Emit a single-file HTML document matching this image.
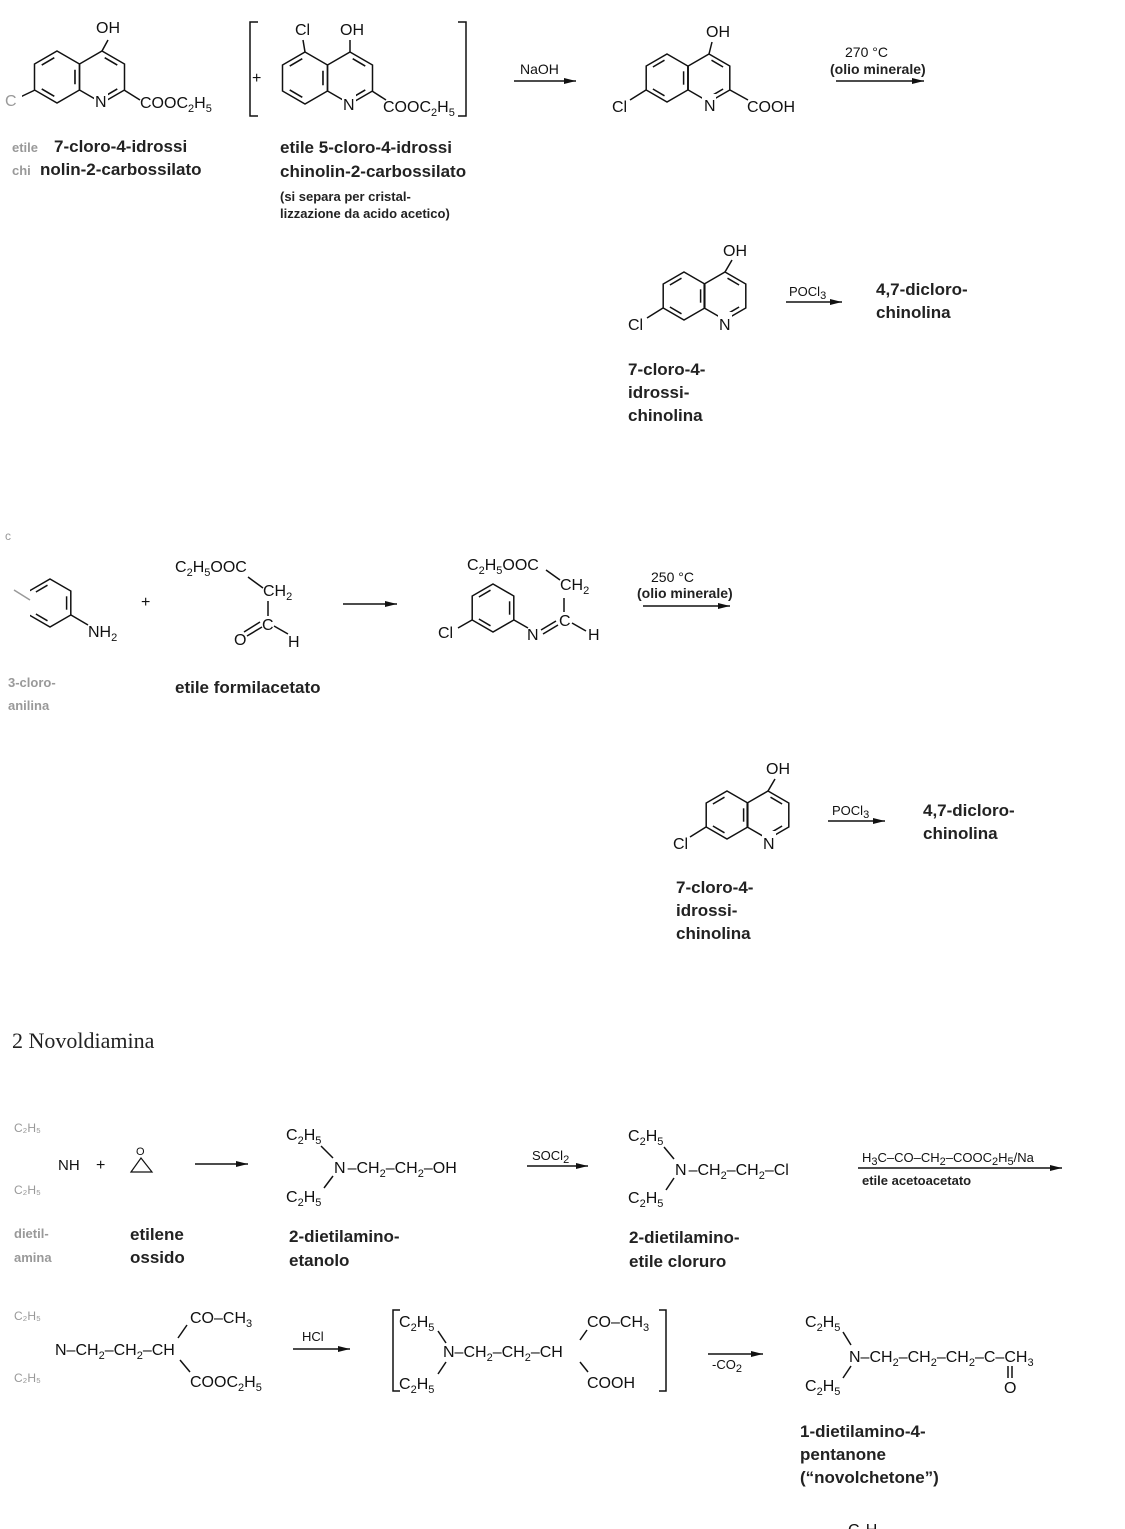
<!DOCTYPE html>
<html><head><meta charset="utf-8">
<style>
html,body{margin:0;padding:0;background:#fff;}
svg{display:block;}
text{font-family:"Liberation Sans",sans-serif;fill:#111;}
.c{font-size:16px;}
.s{font-size:11px;}
.b{font-size:17px;font-weight:bold;fill:#222;}
.sm{font-size:13px;font-weight:bold;fill:#222;}
.f{fill:#999;}
line,polyline,polygon,path{stroke:#111;stroke-width:1.5;fill:none;}
</style></head>
<body>
<svg width="1125" height="1529" viewBox="0 0 1125 1529" xmlns="http://www.w3.org/2000/svg">
<defs>
<polygon id="h26" points="0,-26 22.5,-13 22.5,13 0,26 -22.5,13 -22.5,-13"/>
<polygon id="h24" points="0,-24 20.8,-12 20.8,12 0,24 -20.8,12 -20.8,-12"/>
<g id="bz"><line x1="-14.1" y1="-11" x2="-2.5" y2="-17.8"/><line x1="16.6" y1="-6.7" x2="16.6" y2="6.7"/><line x1="-2.5" y1="17.8" x2="-14.1" y2="11"/></g>
<g id="py"><line x1="2.5" y1="-17.8" x2="14.1" y2="-11"/><line x1="14.1" y1="11" x2="2.5" y2="17.8"/></g>
<g id="bz26" transform="scale(1.083)"><use href="#bz"/></g>
<g id="py26" transform="scale(1.083)"><use href="#py"/></g>
<marker id="ar" markerWidth="12" markerHeight="6" refX="12" refY="3" orient="auto" markerUnits="userSpaceOnUse"><path d="M0,0 L12,3 L0,6 z" style="fill:#111;stroke:none"/></marker>
</defs>
<rect width="1125" height="1529" fill="#fff"/>

<!-- Structure 1 -->
<use href="#h26" x="102" y="77"/>
<use href="#py26" x="102" y="77"/>
<use href="#h26" x="57" y="77"/>
<use href="#bz26" x="57" y="77"/>
<line x1="108" y1="40" x2="102" y2="51"/>
<text class="c" x="96" y="33">OH</text>
<line x1="124" y1="90" x2="140" y2="100"/>
<rect x="94" y="92" width="14" height="14" fill="#fff" style="stroke:none"/>
<text class="c" x="95" y="107">N</text>
<text class="c" x="140" y="108">COOC<tspan class="s" dy="4">2</tspan><tspan dy="-4">H</tspan><tspan class="s" dy="4">5</tspan></text>
<line x1="35" y1="90" x2="14" y2="100"/>
<rect x="0" y="60" width="22" height="50" fill="#fff" style="stroke:none"/>
<text class="c f" x="5" y="106">C</text>
<text class="sm f" x="12" y="152">etile</text>
<text class="b" x="54" y="152">7-cloro-4-idrossi</text>
<text class="sm f" x="12" y="175">chi</text>
<text class="b" x="40" y="175">nolin-2-carbossilato</text>

<!-- Bracket structure -->
<path d="M258,22 L250,22 L250,116 L258,116"/>
<path d="M458,22 L466,22 L466,116 L458,116"/>
<text class="c" x="252" y="83">+</text>
<use href="#h26" x="305" y="78"/>
<use href="#bz26" x="305" y="78"/>
<use href="#h26" x="350" y="78"/>
<use href="#py26" x="350" y="78"/>
<line x1="305" y1="52" x2="303" y2="40"/>
<text class="c" x="295" y="35">Cl</text>
<line x1="350" y1="52" x2="350" y2="40"/>
<text class="c" x="340" y="35">OH</text>
<rect x="342" y="94" width="14" height="14" fill="#fff" style="stroke:none"/>
<text class="c" x="343" y="110">N</text>
<line x1="372" y1="91" x2="386" y2="100"/>
<text class="c" x="383" y="112">COOC<tspan class="s" dy="4">2</tspan><tspan dy="-4">H</tspan><tspan class="s" dy="4">5</tspan></text>
<text class="b" x="280" y="153">etile 5-cloro-4-idrossi</text>
<text class="b" x="280" y="177">chinolin-2-carbossilato</text>
<text class="sm" x="280" y="201">(si separa per cristal-</text>
<text class="sm" x="280" y="218">lizzazione da acido acetico)</text>

<!-- NaOH arrow -->
<text class="c" x="520" y="74" style="font-size:14px">NaOH</text>
<line x1="514" y1="81" x2="576" y2="81" marker-end="url(#ar)"/>

<!-- Structure 3 -->
<use href="#h24" x="667" y="78"/>
<use href="#bz" x="667" y="78"/>
<use href="#h24" x="709" y="78"/>
<use href="#py" x="709" y="78"/>
<line x1="712" y1="42" x2="709" y2="54"/>
<text class="c" x="706" y="37">OH</text>
<rect x="702" y="94" width="14" height="14" fill="#fff" style="stroke:none"/>
<text class="c" x="704" y="111">N</text>
<line x1="646" y1="90" x2="630" y2="100"/>
<text class="c" x="612" y="112">Cl</text>
<line x1="730" y1="90" x2="748" y2="100"/>
<text class="c" x="747" y="112">COOH</text>
<text class="c" x="845" y="57" style="font-size:14px">270 °C</text>
<text class="sm" x="830" y="74" style="font-size:14px">(olio minerale)</text>
<line x1="836" y1="81" x2="924" y2="81" marker-end="url(#ar)"/>

<!-- Structure 4 -->
<use href="#h24" x="684" y="296"/>
<use href="#bz" x="684" y="296"/>
<use href="#h24" x="725" y="296"/>
<use href="#py" x="725" y="296"/>
<line x1="732" y1="260" x2="725" y2="272"/>
<text class="c" x="723" y="256">OH</text>
<rect x="718" y="312" width="14" height="14" fill="#fff" style="stroke:none"/>
<text class="c" x="719" y="330">N</text>
<line x1="663" y1="308" x2="647" y2="318"/>
<text class="c" x="628" y="330">Cl</text>
<text class="c" x="789" y="296" style="font-size:13px">POCl<tspan class="s" dy="3">3</tspan></text>
<line x1="786" y1="302" x2="842" y2="302" marker-end="url(#ar)"/>
<text class="b" x="876" y="295">4,7-dicloro-</text>
<text class="b" x="876" y="318">chinolina</text>
<text class="b" x="628" y="375">7-cloro-4-</text>
<text class="b" x="628" y="398">idrossi-</text>
<text class="b" x="628" y="421">chinolina</text>

<!-- Middle section -->
<text class="c f" x="5" y="540" style="font-size:12px">c</text>
<use href="#h24" x="50" y="603"/>
<use href="#bz" x="50" y="603"/>
<line x1="71" y1="615" x2="88" y2="625"/>
<rect x="0" y="570" width="30" height="60" fill="#fff" style="stroke:none"/>
<line x1="14" y1="590" x2="30" y2="600" style="stroke:#999"/>
<text class="c" x="88" y="637">NH<tspan class="s" dy="4">2</tspan></text>
<text class="c" x="141" y="607">+</text>
<text class="c" x="175" y="572">C<tspan class="s" dy="4">2</tspan><tspan dy="-4">H</tspan><tspan class="s" dy="4">5</tspan><tspan dy="-4">OOC</tspan></text>
<line x1="248" y1="577" x2="263" y2="588"/>
<text class="c" x="263" y="596">CH<tspan class="s" dy="4">2</tspan></text>
<line x1="268" y1="601" x2="268" y2="616"/>
<text class="c" x="262" y="630">C</text>
<line x1="244" y1="632" x2="260" y2="622"/>
<line x1="247" y1="636" x2="262" y2="627"/>
<text class="c" x="234" y="645">O</text>
<line x1="274" y1="626" x2="288" y2="634"/>
<text class="c" x="288" y="647">H</text>
<text class="b" x="175" y="693">etile formilacetato</text>
<text class="sm f" x="8" y="687">3-cloro-</text>
<text class="sm f" x="8" y="710">anilina</text>
<line x1="343" y1="604" x2="397" y2="604" marker-end="url(#ar)"/>

<use href="#h24" x="493" y="608"/>
<use href="#bz" x="493" y="608"/>
<line x1="472" y1="620" x2="458" y2="628"/>
<text class="c" x="438" y="638">Cl</text>
<line x1="514" y1="620" x2="528" y2="628"/>
<text class="c" x="527" y="640">N</text>
<line x1="541" y1="630" x2="556" y2="621"/>
<line x1="543" y1="634" x2="558" y2="625"/>
<text class="c" x="559" y="626">C</text>
<line x1="572" y1="623" x2="586" y2="631"/>
<text class="c" x="588" y="640">H</text>
<line x1="564" y1="598" x2="564" y2="612"/>
<text class="c" x="560" y="590">CH<tspan class="s" dy="4">2</tspan></text>
<line x1="546" y1="570" x2="560" y2="580"/>
<text class="c" x="467" y="570">C<tspan class="s" dy="4">2</tspan><tspan dy="-4">H</tspan><tspan class="s" dy="4">5</tspan><tspan dy="-4">OOC</tspan></text>
<text class="c" x="651" y="582" style="font-size:14px">250 °C</text>
<text class="sm" x="637" y="598" style="font-size:14px">(olio minerale)</text>
<line x1="643" y1="606" x2="730" y2="606" marker-end="url(#ar)"/>

<!-- Structure 5 -->
<use href="#h24" x="727" y="815"/>
<use href="#bz" x="727" y="815"/>
<use href="#h24" x="768" y="815"/>
<use href="#py" x="768" y="815"/>
<line x1="775" y1="779" x2="768" y2="791"/>
<text class="c" x="766" y="774">OH</text>
<rect x="762" y="831" width="14" height="14" fill="#fff" style="stroke:none"/>
<text class="c" x="763" y="849">N</text>
<line x1="706" y1="827" x2="690" y2="837"/>
<text class="c" x="673" y="849">Cl</text>
<text class="c" x="832" y="815" style="font-size:13px">POCl<tspan class="s" dy="3">3</tspan></text>
<line x1="828" y1="821" x2="885" y2="821" marker-end="url(#ar)"/>
<text class="b" x="923" y="816">4,7-dicloro-</text>
<text class="b" x="923" y="839">chinolina</text>
<text class="b" x="676" y="893">7-cloro-4-</text>
<text class="b" x="676" y="916">idrossi-</text>
<text class="b" x="676" y="939">chinolina</text>

<!-- Heading -->
<text x="12" y="1048" style="font-family:'Liberation Serif',serif;font-size:22px;fill:#222">2 Novoldiamina</text>

<!-- Row 1 -->
<text class="c f" x="14" y="1132" style="font-size:12px">C₂H₅</text>
<text class="c f" x="14" y="1194" style="font-size:12px">C₂H₅</text>
<text class="c" x="58" y="1170" style="font-size:15px">NH</text>
<text class="c" x="96" y="1170">+</text>
<path d="M131,1172 L141,1158 L152,1172 Z" style="stroke-width:1.2"/>
<text class="c" x="136" y="1155" style="font-size:11px">O</text>
<line x1="195" y1="1164" x2="248" y2="1164" marker-end="url(#ar)"/>
<text class="c" x="286" y="1140">C<tspan class="s" dy="4">2</tspan><tspan dy="-4">H</tspan><tspan class="s" dy="4">5</tspan></text>
<line x1="321" y1="1146" x2="333" y2="1158"/>
<text class="c" x="334" y="1173">N<tspan dx="2">–</tspan>CH<tspan class="s" dy="4">2</tspan><tspan dy="-4">–CH</tspan><tspan class="s" dy="4">2</tspan><tspan dy="-4">–OH</tspan></text>
<line x1="333" y1="1176" x2="324" y2="1188"/>
<text class="c" x="286" y="1202">C<tspan class="s" dy="4">2</tspan><tspan dy="-4">H</tspan><tspan class="s" dy="4">5</tspan></text>
<text class="sm f" x="14" y="1238">dietil-</text>
<text class="sm f" x="14" y="1262">amina</text>
<text class="b" x="130" y="1240">etilene</text>
<text class="b" x="130" y="1263">ossido</text>
<text class="b" x="289" y="1242">2-dietilamino-</text>
<text class="b" x="289" y="1266">etanolo</text>
<text class="c" x="532" y="1160" style="font-size:13px">SOCl<tspan class="s" dy="3">2</tspan></text>
<line x1="527" y1="1166" x2="588" y2="1166" marker-end="url(#ar)"/>
<text class="c" x="628" y="1141">C<tspan class="s" dy="4">2</tspan><tspan dy="-4">H</tspan><tspan class="s" dy="4">5</tspan></text>
<line x1="664" y1="1147" x2="674" y2="1159"/>
<text class="c" x="675" y="1175">N<tspan dx="2">–</tspan>CH<tspan class="s" dy="4">2</tspan><tspan dy="-4">–CH</tspan><tspan class="s" dy="4">2</tspan><tspan dy="-4">–Cl</tspan></text>
<line x1="674" y1="1178" x2="666" y2="1190"/>
<text class="c" x="628" y="1203">C<tspan class="s" dy="4">2</tspan><tspan dy="-4">H</tspan><tspan class="s" dy="4">5</tspan></text>
<text class="b" x="629" y="1243">2-dietilamino-</text>
<text class="b" x="629" y="1267">etile cloruro</text>
<text class="c" x="862" y="1162" style="font-size:13px">H<tspan class="s" dy="3">3</tspan><tspan dy="-3">C–CO–CH</tspan><tspan class="s" dy="3">2</tspan><tspan dy="-3">–COOC</tspan><tspan class="s" dy="3">2</tspan><tspan dy="-3">H</tspan><tspan class="s" dy="3">5</tspan><tspan dy="-3">/Na</tspan></text>
<line x1="858" y1="1168" x2="1062" y2="1168" marker-end="url(#ar)"/>
<text class="sm" x="862" y="1185">etile acetoacetato</text>

<!-- Row 2 -->
<text class="c f" x="14" y="1320" style="font-size:12px">C₂H₅</text>
<text class="c f" x="14" y="1382" style="font-size:12px">C₂H₅</text>
<text class="c" x="55" y="1355">N–CH<tspan class="s" dy="4">2</tspan><tspan dy="-4">–CH</tspan><tspan class="s" dy="4">2</tspan><tspan dy="-4">–CH</tspan></text>
<line x1="178" y1="1338" x2="187" y2="1325"/>
<text class="c" x="190" y="1323">CO–CH<tspan class="s" dy="4">3</tspan></text>
<line x1="180" y1="1360" x2="190" y2="1372"/>
<text class="c" x="190" y="1387">COOC<tspan class="s" dy="4">2</tspan><tspan dy="-4">H</tspan><tspan class="s" dy="4">5</tspan></text>
<text class="c" x="302" y="1341" style="font-size:13px">HCl</text>
<line x1="293" y1="1349" x2="350" y2="1349" marker-end="url(#ar)"/>

<path d="M400,1310 L393,1310 L393,1391 L400,1391"/>
<path d="M659,1310 L666,1310 L666,1391 L659,1391"/>
<text class="c" x="399" y="1327">C<tspan class="s" dy="4">2</tspan><tspan dy="-4">H</tspan><tspan class="s" dy="4">5</tspan></text>
<line x1="438" y1="1331" x2="446" y2="1343"/>
<text class="c" x="443" y="1357">N–CH<tspan class="s" dy="4">2</tspan><tspan dy="-4">–CH</tspan><tspan class="s" dy="4">2</tspan><tspan dy="-4">–CH</tspan></text>
<line x1="446" y1="1362" x2="438" y2="1374"/>
<text class="c" x="399" y="1389">C<tspan class="s" dy="4">2</tspan><tspan dy="-4">H</tspan><tspan class="s" dy="4">5</tspan></text>
<line x1="580" y1="1340" x2="587" y2="1330"/>
<text class="c" x="587" y="1327">CO–CH<tspan class="s" dy="4">3</tspan></text>
<line x1="580" y1="1362" x2="588" y2="1372"/>
<text class="c" x="587" y="1388">COOH</text>

<line x1="708" y1="1354" x2="763" y2="1354" marker-end="url(#ar)"/>
<text class="c" x="712" y="1369" style="font-size:13px">-CO<tspan class="s" dy="3">2</tspan></text>

<text class="c" x="805" y="1327">C<tspan class="s" dy="4">2</tspan><tspan dy="-4">H</tspan><tspan class="s" dy="4">5</tspan></text>
<line x1="843" y1="1332" x2="851" y2="1345"/>
<text class="c" x="849" y="1362">N–CH<tspan class="s" dy="4">2</tspan><tspan dy="-4">–CH</tspan><tspan class="s" dy="4">2</tspan><tspan dy="-4">–CH</tspan><tspan class="s" dy="4">2</tspan><tspan dy="-4">–C–CH</tspan><tspan class="s" dy="4">3</tspan></text>
<line x1="851" y1="1366" x2="843" y2="1378"/>
<text class="c" x="805" y="1391">C<tspan class="s" dy="4">2</tspan><tspan dy="-4">H</tspan><tspan class="s" dy="4">5</tspan></text>
<line x1="1008" y1="1366" x2="1008" y2="1378"/>
<line x1="1012" y1="1366" x2="1012" y2="1378"/>
<text class="c" x="1004" y="1393">O</text>
<text class="b" x="800" y="1437">1-dietilamino-4-</text>
<text class="b" x="800" y="1460">pentanone</text>
<text class="b" x="800" y="1483">(“novolchetone”)</text>
<text class="c" x="848" y="1535">C<tspan class="s" dy="4">2</tspan><tspan dy="-4">H</tspan><tspan class="s" dy="4">5</tspan></text>
</svg>
</body></html>
